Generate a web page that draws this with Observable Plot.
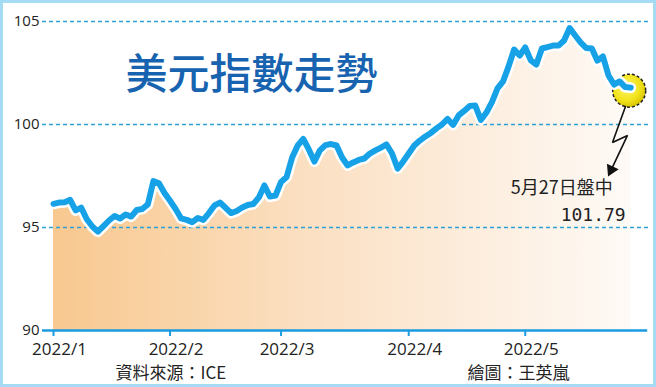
<!DOCTYPE html>
<html><head><meta charset="utf-8">
<script src="https://cdn.jsdelivr.net/npm/d3@7"></script>
<script src="https://cdn.jsdelivr.net/npm/@observablehq/plot@0.6"></script>
<style>
html,body{margin:0;padding:0;background:#fff;}
#chart{width:656px;height:387px;overflow:hidden;}
</style></head><body><div id="chart"></div>
<script>
const title = "美元指數走勢";
const source = "資料來源：ICE";
const credit = "繪圖：王英嵐";
const lastLabel = "5月27日盤中";

const dates = [
 "2022-01-03","2022-01-04","2022-01-05","2022-01-06","2022-01-07","2022-01-10","2022-01-11","2022-01-12","2022-01-13","2022-01-14",
 "2022-01-17","2022-01-18","2022-01-19","2022-01-20","2022-01-21","2022-01-24","2022-01-25","2022-01-26","2022-01-27","2022-01-28","2022-01-31",
 "2022-02-01","2022-02-02","2022-02-03","2022-02-04","2022-02-07","2022-02-08","2022-02-09","2022-02-10","2022-02-11","2022-02-14",
 "2022-02-15","2022-02-16","2022-02-17","2022-02-18","2022-02-21","2022-02-22","2022-02-23","2022-02-24","2022-02-25","2022-02-28",
 "2022-03-01","2022-03-02","2022-03-03","2022-03-04","2022-03-07","2022-03-08","2022-03-09","2022-03-10","2022-03-11","2022-03-14",
 "2022-03-15","2022-03-16","2022-03-17","2022-03-18","2022-03-21","2022-03-22","2022-03-23","2022-03-24","2022-03-25","2022-03-28",
 "2022-03-29","2022-03-30","2022-03-31",
 "2022-04-01","2022-04-04","2022-04-05","2022-04-06","2022-04-07","2022-04-08","2022-04-11","2022-04-12","2022-04-13","2022-04-14",
 "2022-04-15","2022-04-18","2022-04-19","2022-04-20","2022-04-21","2022-04-22","2022-04-25","2022-04-26","2022-04-27","2022-04-28","2022-04-29",
 "2022-05-02","2022-05-03","2022-05-04","2022-05-05","2022-05-06","2022-05-09","2022-05-10","2022-05-11","2022-05-12","2022-05-13",
 "2022-05-16","2022-05-17","2022-05-18","2022-05-19","2022-05-20","2022-05-23","2022-05-24","2022-05-25","2022-05-26","2022-05-27"
];
const values = [
 96.15,96.21,96.23,96.34,95.83,95.96,95.40,95.05,94.80,95.07,
 95.34,95.56,95.44,95.63,95.53,95.85,95.90,96.12,97.25,97.15,96.68,
 96.30,95.90,95.44,95.37,95.26,95.46,95.37,95.70,96.07,96.21,
 95.96,95.70,95.80,95.97,96.09,96.14,96.46,97.04,96.50,96.55,
 97.21,97.45,98.40,98.98,99.30,98.79,98.20,98.74,99.00,99.05,
 98.98,98.40,98.01,98.16,98.28,98.35,98.59,98.74,98.88,99.03,
 98.59,97.86,98.20,
 98.59,98.98,99.22,99.42,99.59,99.81,100.00,100.27,99.98,100.44,
 100.66,100.90,100.92,100.22,100.58,101.09,101.75,102.09,102.82,103.64,103.35,
 103.74,103.11,102.91,103.69,103.76,103.83,103.83,104.08,104.68,104.32,
 103.98,103.71,103.69,103.10,103.30,102.38,101.94,102.09,101.82,101.79
];
const tickDates = ["2022-01-03","2022-02-01","2022-03-01","2022-04-01","2022-05-02"];
const tickLabels = ["2022/1","2022/2","2022/3","2022/4","2022/5"];
const yTicks = [90,95,100,105];
const gridTicks = [95,100,105];
// zigzag callout arrow (annotation, in chart units: trading-day index, index value)
const arrowIdx = [103.06, 100.72, 103.42, 100.49];
const arrowVal = [100.87, 99.13, 99.47, 97.80];

const data = dates.map((d,i)=>({i, date:d, v:values[i]}));
const last = data[data.length-1];
const tickIdx = tickDates.map(d=>dates.indexOf(d));
const arrow = arrowIdx.map((x,k)=>({i:x, v:arrowVal[k]}));
const arrowTip = arrow[arrow.length-1];

const axisFont = "'Open Sans', 'DejaVu Sans', sans-serif";
const cjk = "'Noto Sans CJK TC', 'Noto Sans CJK SC', sans-serif";
const blue = "#17a2e8";

const chart = Plot.plot({
  width: 656, height: 387,
  marginLeft: 53, marginRight: 25.8, marginTop: 21, marginBottom: 57,
  x: {type:"linear", domain:[0, dates.length-1], axis:null},
  y: {type:"linear", domain:[90,105], axis:null},
  style: {background:"#fff", fontFamily: axisFont, overflow:"visible"},
  marks: [
    Plot.areaY(data, {x:"i", y1:90, y2:"v", fill:"url(#areaGrad)"}),
    Plot.ruleY(gridTicks, {stroke:"#2f9fd6", strokeWidth:1.6, strokeDasharray:"4,3", insetLeft:-11, insetRight:-18}),
    Plot.axisY(yTicks, {anchor:"left", tickSize:0, tickPadding:14, fontSize:15, fill:"#222", label:null, fontFamily:axisFont}),
    Plot.ruleY([90], {stroke:"#1b9be0", strokeWidth:2.7, insetLeft:-11, insetRight:-17}),
    Plot.axisX(tickIdx, {anchor:"bottom", tickSize:6, stroke:"#1b9be0", strokeWidth:2, tickFormat:()=>"", label:null}),
    Plot.axisX(tickIdx, {anchor:"bottom", tickSize:0, tickPadding:12, dx:6, fontSize:17, fill:"#222", tickFormat:d=>tickLabels[tickIdx.indexOf(d)], label:null, fontFamily:axisFont}),
    Plot.lineY(data, {x:"i", y:"v", stroke:"#666", strokeOpacity:0.55, strokeWidth:9.5, dx:1.5, dy:3, strokeLinejoin:"round", ariaLabel:"shadow"}),
    Plot.dot([last], {x:"i", y:"v", r:16.5, dx:-1.5, dy:3, fill:"url(#dotGrad)", stroke:"#222", strokeWidth:1.5, strokeDasharray:"3,2"}),
    Plot.lineY(data, {x:"i", y:"v", stroke:"#fff", strokeWidth:11, strokeLinejoin:"round", strokeLinecap:"round"}),
    Plot.lineY(data, {x:"i", y:"v", stroke:blue, strokeWidth:6, strokeLinejoin:"round", strokeLinecap:"round"}),
    Plot.line(arrow, {x:"i", y:"v", stroke:"#111", strokeWidth:1.6, strokeLinejoin:"miter"}),
    Plot.dot([arrowTip], {x:"i", y:"v", symbol:"triangle", r:4.8, rotate:205, fill:"#111", stroke:"none"}),
    Plot.text([last], {x:"i", y:"v", text:()=>lastLabel, textAnchor:"end", dx:-18, dy:101, fontSize:18, fill:"#222", fontFamily:cjk}),
    Plot.text([last], {x:"i", y:"v", text:d=>d.v.toFixed(2), textAnchor:"end", dx:-5, dy:128, fontSize:18, fill:"#222", fontFamily:"'DejaVu Sans Mono', monospace"}),
    Plot.text([title], {frameAnchor:"top-left", lineAnchor:"middle", dx:72, dy:54, textAnchor:"start", fontSize:42, fill:"#1763b0", fontWeight:500, fontFamily:cjk}),
    Plot.text([source], {frameAnchor:"bottom-left", lineAnchor:"middle", dx:62, dy:43, textAnchor:"start", fontSize:17, fill:"#222", fontFamily:cjk}),
    Plot.text([credit], {frameAnchor:"bottom-left", lineAnchor:"middle", dx:414, dy:43, textAnchor:"start", fontSize:17, fill:"#222", fontFamily:cjk})
  ]
});

const svg = d3.select(chart);
const defs = svg.insert("defs", ":first-child");
const lg = defs.append("linearGradient").attr("id","areaGrad").attr("x1","0").attr("x2","1").attr("y1","0").attr("y2","0");
lg.append("stop").attr("offset","0").attr("stop-color","#f8c88f");
lg.append("stop").attr("offset","0.45").attr("stop-color","#fbe0c3");
lg.append("stop").attr("offset","1").attr("stop-color","#fefaf6");
const rg = defs.append("radialGradient").attr("id","dotGrad").attr("cx","0.42").attr("cy","0.4").attr("r","0.62");
rg.append("stop").attr("offset","0").attr("stop-color","#fdf66a");
rg.append("stop").attr("offset","0.65").attr("stop-color","#f2e31c");
rg.append("stop").attr("offset","1").attr("stop-color","#d8c300");
defs.append("filter").attr("id","blur").attr("x","-10%").attr("y","-10%").attr("width","120%").attr("height","120%")
  .append("feGaussianBlur").attr("stdDeviation","1.6");
svg.select('g[aria-label="shadow"]').attr("filter","url(#blur)");
svg.append("rect").attr("x",1.5).attr("y",1.5).attr("width",653).attr("height",384)
  .attr("fill","none").attr("stroke","#a6dcf3").attr("stroke-width",3);

document.getElementById("chart").appendChild(chart);
</script>
</body></html>
